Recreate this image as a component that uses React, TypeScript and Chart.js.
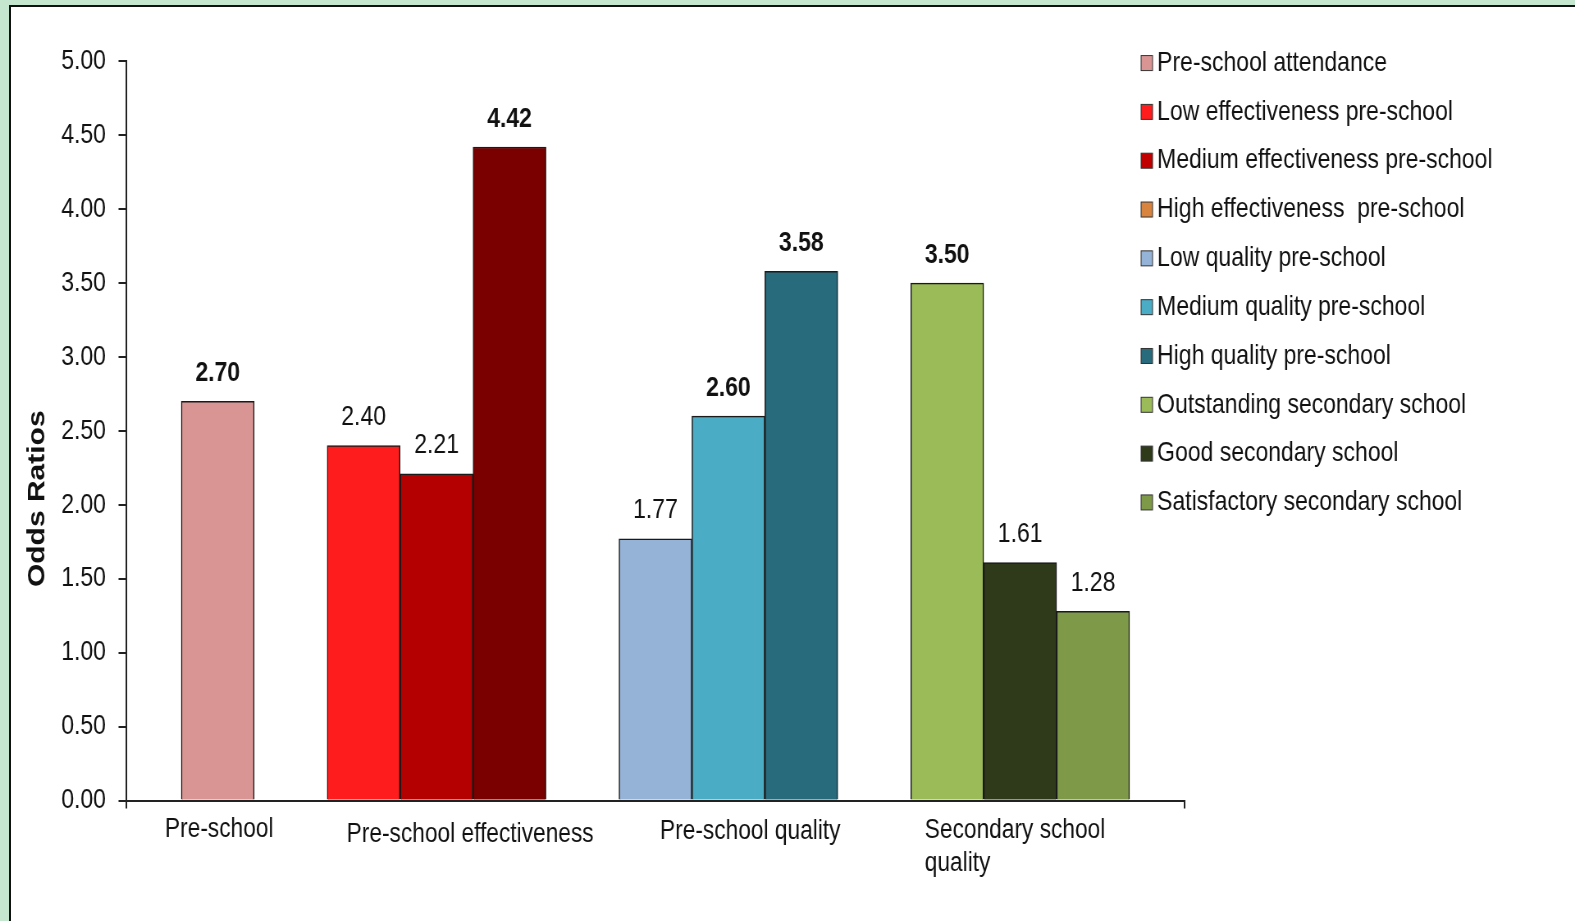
import React, { useEffect, useRef } from 'react';
import { Chart, registerables } from 'chart.js';

Chart.register(...registerables);

// ---------- data ----------
const CATEGORIES = ['Pre-school', 'Pre-school effectiveness', 'Pre-school quality', 'Secondary school quality'];
const CATEGORY_LINES = [['Pre-school'], ['Pre-school effectiveness'], ['Pre-school quality'], ['Secondary school', 'quality']];

const SERIES_NAMES = [
  'Pre-school attendance',
  'Low effectiveness pre-school',
  'Medium effectiveness pre-school',
  'High effectiveness  pre-school',
  'Low quality pre-school',
  'Medium quality pre-school',
  'High quality pre-school',
  'Outstanding secondary school',
  'Good secondary school',
  'Satisfactory secondary school',
];
const SERIES_GROUP = [0, 1, 1, 1, 2, 2, 2, 3, 3, 3];
const ODDS_RATIOS = [2.7, 2.4, 2.21, 4.42, 1.77, 2.6, 3.58, 3.5, 1.61, 1.28];
const SIGNIFICANT = [true, false, false, true, false, true, true, true, false, false];

const BAR_COLORS = ['#d99594', '#ff1c1c', '#b40000', '#7a0000', '#95b3d7', '#4bacc6', '#286b7d', '#9bbb59', '#2e3a1a', '#7e9a48'];
const LEGEND_COLORS = ['#d99594', '#ff1c1c', '#c00000', '#d8843f', '#95b3d7', '#4bacc6', '#286b7d', '#9bbb59', '#2e3a1a', '#7e9a48'];

const Y_TICKS = { min: 0, max: 5, step: 0.5 };
const Y_TITLE = 'Odds Ratios';

// ---------- layout ----------
const FONT = "'Liberation Sans', Arial, Helvetica, sans-serif";
const VIEW_W = 1575;
const VIEW_H = 921;
const CANVAS_W = 1920;
const SX = VIEW_W / CANVAS_W; // horizontal squeeze of the original picture
const M = 1575 / 1568; // measured-on-preview to full-size factor
const px = (displayX: number) => (displayX * M) / SX;
const py = (displayY: number) => displayY * M;

const AXIS_LEFT = 126;
const AXIS_RIGHT = 1179;
const AXIS_TOP = 61;
const AXIS_BOTTOM = 797;

const EDGE = 0.75; // bar widths before first and after last group
const GROUP_GAP = 1; // bar widths between groups
const LABEL_SHIFT = [0.02, 0.46, 0.3, -0.07];
const LABEL_BASELINE = [833, 838, 835, 834];
const LABEL_LINE_STEP = 33;

// bar slot positions derived from group structure
const groupStarts: number[] = [];
const groupSizes: number[] = [];
const slotPos: number[] = [];
(() => {
  let x = EDGE;
  for (let g = 0; g < CATEGORIES.length; g++) {
    groupStarts[g] = x;
    let k = 0;
    SERIES_GROUP.forEach((sg, i) => {
      if (sg === g) {
        slotPos[i] = x + k + 0.5;
        k++;
      }
    });
    groupSizes[g] = k;
    x += k + GROUP_GAP;
  }
})();
const X_END = groupStarts[groupStarts.length - 1] + groupSizes[groupSizes.length - 1] + EDGE;

const overlayPlugin = {
  id: 'overlay',
  afterDatasetsDraw(chart: any) {
    const ctx = chart.ctx;
    ctx.save();
    ctx.fillStyle = '#111';
    ctx.textAlign = 'center';
    ctx.textBaseline = 'middle';
    chart.data.datasets.forEach((ds: any, i: number) => {
      const meta = chart.getDatasetMeta(i);
      meta.data.forEach((el: any, j: number) => {
        const v = ds.data[j].y;
        if (v == null) return;
        ctx.font = `${SIGNIFICANT[i] ? 'bold ' : ''}28px ${FONT}`;
        ctx.fillText(v.toFixed(2), el.x, el.y - py(28));
      });
    });
    ctx.restore();
  },
  afterDraw(chart: any) {
    const ctx = chart.ctx;
    const xs = chart.scales.x;
    ctx.save();
    // category labels
    ctx.fillStyle = '#111';
    ctx.font = `27.7px ${FONT}`;
    ctx.textBaseline = 'alphabetic';
    ctx.textAlign = 'left';
    CATEGORY_LINES.forEach((lines, g) => {
      const center = xs.getPixelForValue(groupStarts[g] + groupSizes[g] / 2 + LABEL_SHIFT[g]);
      const widest = Math.max(...lines.map((l) => ctx.measureText(l).width));
      const left = center - widest / 2;
      lines.forEach((l, k) => ctx.fillText(l, left, py(LABEL_BASELINE[g] + k * LABEL_LINE_STEP)));
    });
    // y title
    ctx.save();
    ctx.translate(px(37.5), py(496.5));
    ctx.rotate(-Math.PI / 2);
    ctx.font = `bold 30px ${FONT}`;
    ctx.textAlign = 'center';
    ctx.textBaseline = 'middle';
    ctx.fillText(Y_TITLE, 0, 0);
    ctx.restore();
    // legend
    const boxX = px(1136);
    const textX = px(1152);
    SERIES_NAMES.forEach((name, i) => {
      const y = py(62.8 + i * 48.6);
      ctx.fillStyle = LEGEND_COLORS[i];
      ctx.fillRect(boxX, y - 7.5, 14, 15);
      ctx.strokeStyle = '#333';
      ctx.lineWidth = 1;
      ctx.strokeRect(boxX, y - 7.5, 14, 15);
      ctx.fillStyle = '#111';
      ctx.font = `28px ${FONT}`;
      ctx.textAlign = 'left';
      ctx.textBaseline = 'middle';
      ctx.fillText(name, textX, y);
    });
    ctx.restore();
  },
};

export default function App() {
  const ref = useRef<HTMLCanvasElement | null>(null);

  useEffect(() => {
    if (!ref.current) return;
    const datasets = SERIES_NAMES.map((name, i) => ({
      label: name,
      data: [{ x: slotPos[i], y: ODDS_RATIOS[i] }],
      backgroundColor: BAR_COLORS[i],
      borderColor: '#1a1a1a',
      borderWidth: 1.5,
      borderSkipped: 'bottom' as const,
      grouped: false,
      barPercentage: 1,
      categoryPercentage: 1,
    }));
    const chart = new Chart(ref.current, {
      type: 'bar',
      data: { datasets },
      options: {
        responsive: false,
        animation: false,
        devicePixelRatio: 1,
        layout: { padding: { top: py(AXIS_TOP), right: CANVAS_W - px(AXIS_RIGHT), bottom: 0, left: 0 } },
        plugins: {
          legend: { display: false },
          tooltip: { enabled: false },
        },
        scales: {
          x: {
            type: 'linear',
            min: 0,
            max: X_END,
            offset: false,
            grid: { display: true, drawOnChartArea: false, offset: false, tickLength: 8, color: '#222', lineWidth: 2 },
            border: { display: true, color: '#222', width: 2 },
            ticks: { callback: () => '' },
            afterBuildTicks: (s: any) => {
              s.ticks = [{ value: 0 }, { value: X_END }];
            },
            afterFit: (s: any) => {
              s.height = VIEW_H - py(AXIS_BOTTOM);
            },
          },
          y: {
            type: 'linear',
            min: Y_TICKS.min,
            max: Y_TICKS.max,
            ticks: {
              stepSize: Y_TICKS.step,
              callback: (v: any) => Number(v).toFixed(2),
              font: { family: FONT, size: 28 },
              color: '#111',
              padding: px(126) - px(105.5) - px(8),
            },
            grid: { drawOnChartArea: false, tickLength: px(8), color: '#222', lineWidth: 2 },
            border: { color: '#222', width: 2 },
            afterFit: (s: any) => {
              s.width = px(AXIS_LEFT);
            },
          },
        },
      } as any,
      plugins: [overlayPlugin],
    });
    return () => chart.destroy();
  }, []);

  return (
    <div style={{ position: 'fixed', left: 0, top: 0, width: VIEW_W, height: VIEW_H, background: '#c5e6cf', overflow: 'hidden' }}>
      <div
        style={{
          position: 'absolute',
          left: 9,
          top: 5,
          right: 0,
          bottom: 0,
          background: '#fff',
          borderLeft: '2px solid #111',
          borderTop: '2px solid #111',
        }}
      />
      <canvas
        ref={ref}
        width={CANVAS_W}
        height={VIEW_H}
        style={{
          position: 'absolute',
          left: 0,
          top: 0,
          width: `${CANVAS_W}px`,
          height: `${VIEW_H}px`,
          transform: `scaleX(${SX})`,
          transformOrigin: '0 0',
        }}
      />
    </div>
  );
}
